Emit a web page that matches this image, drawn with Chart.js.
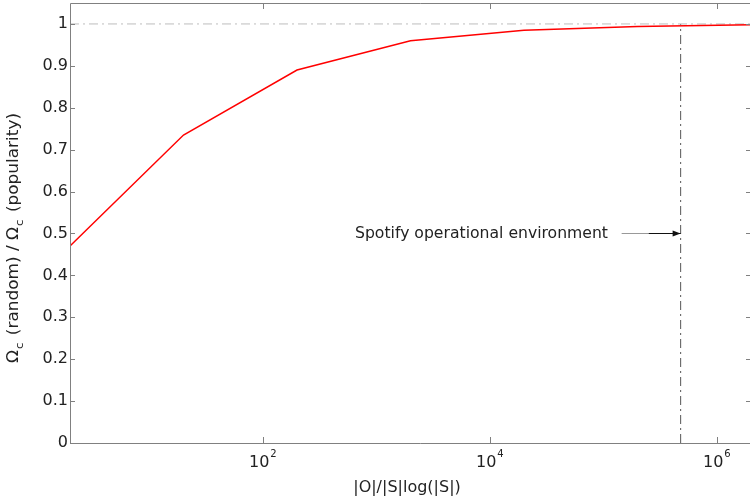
<!DOCTYPE html>
<html>
<head>
<meta charset="utf-8">
<script src="https://cdn.jsdelivr.net/npm/chart.js@4.4.0/dist/chart.umd.min.js"></script>
<style>
  html, body { margin: 0; padding: 0; overflow: hidden; background: #fff; }
  #wrap { width: 770px; height: 503px; }
</style>
</head>
<body>
<div id="wrap"><canvas id="c"></canvas></div>
<script>
// |O|/|S|log(|S|) sample points and the ratio
const xValues = [2, 20, 200, 2000, 20000, 200000, 2000000];
const ratioValues = [0.47, 0.735, 0.89, 0.96, 0.985, 0.994, 0.998];
const yTickValues = [0, 0.1, 0.2, 0.3, 0.4, 0.5, 0.6, 0.7, 0.8, 0.9, 1];
const xTickValues = [1e2, 1e4, 1e6];
const xTickExponents = ["2", "4", "6"];
const operationalX = 4.8e5;
const operationalY = 0.5;
const annotationText = "Spotify operational environment";

const FONT = "'DejaVu Sans', 'Liberation Sans', Arial, sans-serif";
const frameColor = "#808080";

const overlay = {
  id: "overlay",
  afterDraw(chart) {
    const ctx = chart.ctx;
    const a = chart.chartArea;
    const xs = chart.scales.x;
    const ys = chart.scales.y;
    ctx.save();

    // frame (right edge falls outside the picture)
    const L = Math.round(a.left) + 0.5, T = Math.round(a.top) + 0.5;
    const B = Math.round(a.bottom) + 0.5, R = Math.round(a.right) + 0.5;
    ctx.strokeStyle = frameColor;
    ctx.lineWidth = 1;
    ctx.beginPath();
    ctx.moveTo(R + 20, T); ctx.lineTo(L, T); ctx.lineTo(L, B); ctx.lineTo(R + 20, B);
    ctx.stroke();

    // inward ticks
    ctx.beginPath();
    yTickValues.forEach(v => {
      const y = Math.round(ys.getPixelForValue(v)) + 0.5;
      ctx.moveTo(a.left, y); ctx.lineTo(a.left + 5, y);
      ctx.moveTo(a.right, y); ctx.lineTo(a.right - 5, y);
    });
    xTickValues.forEach(v => {
      const x = Math.round(xs.getPixelForValue(v)) + 0.5;
      ctx.moveTo(x, a.bottom); ctx.lineTo(x, a.bottom - 6);
      ctx.moveTo(x, a.top); ctx.lineTo(x, a.top + 6);
    });
    ctx.stroke();

    // x tick labels with superscripts
    ctx.fillStyle = "#222";
    ctx.textBaseline = "middle";
    xTickValues.forEach((v, i) => {
      const x = xs.getPixelForValue(v);
      ctx.font = "16px " + FONT;
      const w1 = ctx.measureText("10").width;
      ctx.font = "10px " + FONT;
      const w2 = ctx.measureText(xTickExponents[i]).width;
      const left = x - (w1 + w2 + 1) / 2;
      ctx.font = "16px " + FONT;
      ctx.textAlign = "left";
      ctx.fillText("10", left, 463);
      ctx.font = "10px " + FONT;
      ctx.fillText(xTickExponents[i], left + w1 + 1, 454);
    });

    // x title
    ctx.font = "16px " + FONT;
    ctx.textAlign = "center";
    ctx.fillText("|O|/|S|log(|S|)", 407, 488);

    // y title, rotated with subscripts, stretched to the reference length
    const parts = [
      ["\u03A9", false], ["c", true], [" (random) / ", false],
      ["\u03A9", false], ["c", true], [" (popularity)", false]
    ];
    ctx.save();
    ctx.textAlign = "left";
    ctx.textBaseline = "alphabetic";
    let total = 0;
    parts.forEach(p => {
      ctx.font = (p[1] ? "11px " : "16px ") + FONT;
      total += ctx.measureText(p[0]).width + (p[1] ? 3 : 0);
    });
    ctx.translate(18, 238);
    ctx.rotate(-Math.PI / 2);
    ctx.scale(250 / total, 1);
    let cx = -total / 2;
    parts.forEach(p => {
      ctx.font = (p[1] ? "11px " : "16px ") + FONT;
      if (p[1]) {
        ctx.fillText(p[0], cx + 1, 5);
        cx += ctx.measureText(p[0]).width + 3;
      } else {
        ctx.fillText(p[0], cx, 0);
        cx += ctx.measureText(p[0]).width;
      }
    });
    ctx.restore();

    // annotation with arrow
    const ax = xs.getPixelForValue(operationalX);
    const ay = Math.round(ys.getPixelForValue(operationalY)) + 0.5;
    ctx.font = "16px " + FONT;
    ctx.textAlign = "left";
    ctx.textBaseline = "middle";
    const tw = ctx.measureText(annotationText).width;
    ctx.save();
    ctx.translate(355, ay);
    ctx.scale(253 / tw, 1);
    ctx.fillText(annotationText, 0, 0);
    ctx.restore();
    ctx.strokeStyle = "#999";
    ctx.lineWidth = 1;
    ctx.beginPath();
    ctx.moveTo(ax - 59, ay); ctx.lineTo(ax - 32, ay);
    ctx.stroke();
    ctx.strokeStyle = "#111";
    ctx.beginPath();
    ctx.moveTo(ax - 32, ay); ctx.lineTo(ax, ay);
    ctx.stroke();
    ctx.fillStyle = "#111";
    ctx.beginPath();
    ctx.moveTo(ax, ay);
    ctx.lineTo(ax - 8, ay - 3);
    ctx.lineTo(ax - 8, ay + 3);
    ctx.closePath();
    ctx.fill();

    ctx.restore();
  }
};

new Chart(document.getElementById("c"), {
  type: "line",
  data: {
    datasets: [
      {
        data: xValues.map((x, i) => ({ x: x, y: ratioValues[i] })),
        borderColor: "#ff0000",
        borderWidth: 1.5,
        pointRadius: 0,
        tension: 0,
        fill: false
      },
      {
        data: [{ x: xValues[0], y: 1 }, { x: xValues[xValues.length - 1], y: 1 }],
        borderColor: "#bdbdbd",
        borderWidth: 1,
        borderDash: [9, 4, 2, 4],
        pointRadius: 0,
        fill: false
      },
      {
        data: [{ x: operationalX, y: 0 }, { x: operationalX, y: 1 }],
        borderColor: "#555",
        borderWidth: 1,
        borderDash: [9, 4, 2, 4],
        pointRadius: 0,
        fill: false
      }
    ]
  },
  options: {
    responsive: true,
    maintainAspectRatio: false,
    animation: false,
    layout: { padding: { top: 3, right: 19, left: 0, bottom: 0 } },
    plugins: {
      legend: { display: false },
      tooltip: { enabled: false }
    },
    scales: {
      x: {
        type: "logarithmic",
        min: 2,
        max: 2e6,
        grid: { display: false },
        border: { display: false },
        afterBuildTicks: s => { s.ticks = xTickValues.map(v => ({ value: v })); },
        ticks: { callback: () => "" },
        afterFit: s => { s.height = 60; s.paddingLeft = 0; s.paddingRight = 0; }
      },
      y: {
        min: 0,
        max: 1.05,
        grid: { display: false, drawTicks: false },
        border: { display: false },
        afterBuildTicks: s => { s.ticks = yTickValues.map(v => ({ value: v })); },
        ticks: {
          padding: 2,
          color: "#222",
          font: { family: FONT, size: 16 },
          callback: v => String(Math.round(v * 10) / 10)
        },
        afterFit: s => { s.width = 70; s.paddingTop = 0; s.paddingBottom = 0; }
      }
    }
  },
  plugins: [overlay]
});
</script>
</body>
</html>
